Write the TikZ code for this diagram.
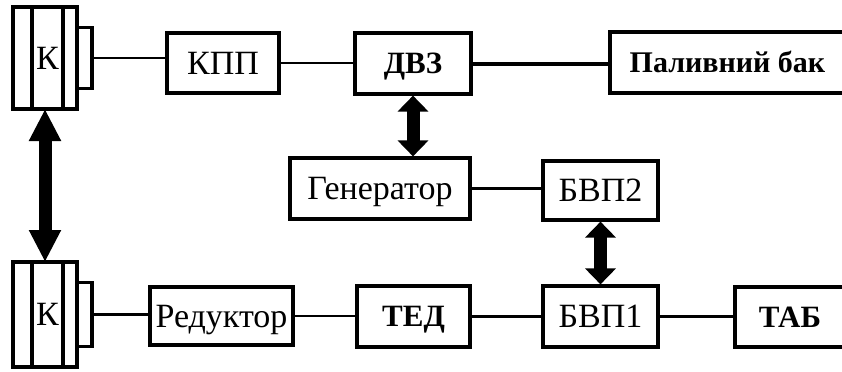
\documentclass[tikz,border=0pt]{standalone}
\usepackage{fontspec}
\setmainfont{Liberation Serif}
\usetikzlibrary{positioning,arrows.meta}
\tikzset{
  unit/.style={draw, line width=1.6pt, minimum height=30pt, inner sep=0pt, text height=11pt, text depth=0pt, font=\fontsize{17}{19}\selectfont},
  unitBold/.style={unit, text height=10pt, font=\fontsize{15.5}{18}\selectfont\bfseries},
  clutch/.style={draw, line width=1.6pt, inner sep=0pt, outer sep=0pt, text height=11pt, text depth=0pt, font=\fontsize{17}{19}\selectfont},
  link/.style={line width=1.3pt},
  power/.style={line width=6.5pt, {Triangle[width=15pt,length=8pt]}-{Triangle[width=15pt,length=8pt]}}
}
\begin{document}
\begin{tikzpicture}[x=0.5pt, y=-0.5pt]
  \useasboundingbox (0,0) rectangle (842,371);
  % clutches
  \node[clutch, minimum width=32pt, minimum height=51pt] (kt) at (45,58) {};
  \node[clutch, minimum width=15.5pt, minimum height=51pt] (ktc) at (47.5,58) {К};
  \node[clutch, minimum width=7.5pt, minimum height=30.5pt, right=0pt of kt] (kts) {};
  \node[clutch, minimum width=32pt, minimum height=52.5pt] (kb) at (45,314.5) {};
  \node[clutch, minimum width=15.5pt, minimum height=52.5pt] (kbc) at (47.5,314.5) {К};
  \node[clutch, minimum width=7.5pt, minimum height=32pt, right=0pt of kb] (kbs) {};
  % top row
  \node[unit, minimum width=56pt] (kpp) at (223,63) {КПП};
  \node[unitBold, minimum width=58pt, minimum height=30.5pt] (dvz) at (413,63.5) {ДВЗ};
  \node[unitBold, minimum width=117.5pt, minimum height=30.5pt, font=\fontsize{15}{18}\selectfont\bfseries] (tank) at (727.5,62.5) {Паливний бак};
  % middle row
  \node[unit, minimum width=90pt, minimum height=30.5pt] (gen) at (380,188.5) {Генератор};
  \node[unit, minimum width=57.5pt, minimum height=29.5pt] (bvp2) at (600.5,190.5) {БВП2};
  % bottom row
  \node[unit, minimum width=71.5pt, minimum height=29pt] (red) at (221.5,316) {Редуктор};
  \node[unitBold, minimum width=56.5pt, minimum height=30.5pt] (ted) at (413.5,316.5) {ТЕД};
  \node[unit, minimum width=57.5pt, minimum height=30.5pt] (bvp1) at (600.5,316.5) {БВП1};
  \node[unitBold, minimum width=55pt] (tab) at (790,317) {ТАБ};
  % links
  \draw[link] (kts.east) -- (kts.east -| kpp.west);
  \draw[link] (kpp.east) -- (kpp.east -| dvz.west);
  \draw[link, line width=2pt] (dvz.east) -- (dvz.east -| tank.west);
  \draw[link] (gen.east) -- (gen.east -| bvp2.west);
  \draw[link] (kbs.east) -- (kbs.east -| red.west);
  \draw[link] (red.east) -- (red.east -| ted.west);
  \draw[link] (ted.east) -- (ted.east -| bvp1.west);
  \draw[link] (bvp1.east) -- (bvp1.east -| tab.west);
  % power flows
  \draw[power, {Triangle[width=15pt,length=16pt]}-{Triangle[width=15pt,length=16pt]}] (kt.south) -- (kb.north);
  \draw[power] (dvz.south) -- (dvz.south |- gen.north);
  \draw[power] (bvp2.south) -- (bvp1.north);
\end{tikzpicture}
\end{document}
